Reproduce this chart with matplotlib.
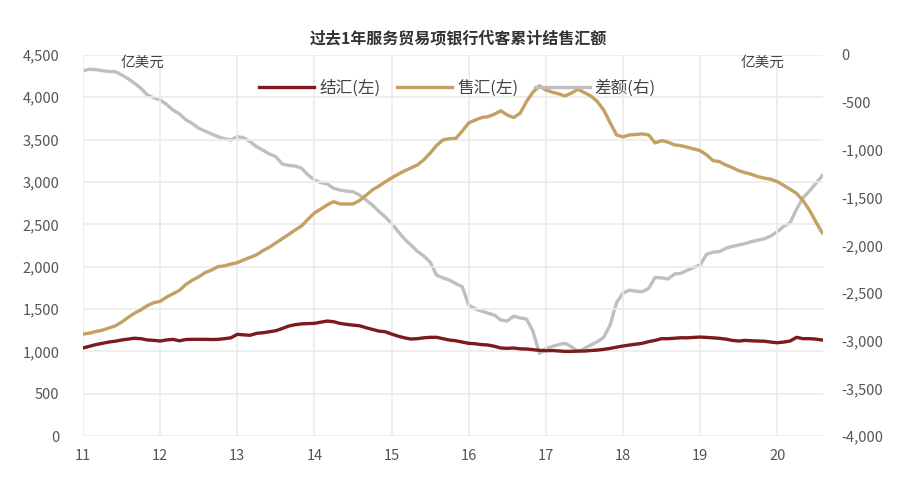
import matplotlib.pyplot as plt
from matplotlib.ticker import FuncFormatter, MultipleLocator
import numpy as np

plt.rcParams['font.family'] = ['Noto Sans CJK SC', 'DejaVu Sans']

# monthly data, Jan 2011 .. Aug 2020 (100 million USD)
start_year = 11
settle = [  # 结汇
    1040, 1060, 1080, 1095, 1110, 1120, 1134, 1145, 1155, 1150, 1135, 1130,
    1122, 1135, 1142, 1125, 1140, 1142, 1142, 1142, 1140, 1142, 1150, 1160,
    1201, 1195, 1190, 1213, 1220, 1232, 1244, 1270, 1299, 1315, 1325, 1328,
    1331, 1345, 1358, 1350, 1330, 1319, 1310, 1303, 1280, 1260, 1240, 1232,
    1205, 1180, 1160, 1146, 1150, 1160, 1166, 1166, 1150, 1134, 1125, 1110,
    1095, 1090, 1080, 1075, 1060, 1040, 1036, 1040, 1030, 1028, 1020, 1012,
    1008, 1010, 1005, 1000, 1000, 1004, 1004, 1010, 1015, 1024, 1035, 1050,
    1063, 1075, 1085, 1095, 1115, 1130, 1150, 1150, 1155, 1161, 1160, 1165,
    1169, 1165, 1160, 1154, 1145, 1130, 1122, 1130, 1125, 1122, 1120, 1110,
    1102, 1110, 1122, 1166, 1150, 1150, 1145, 1134,
]
sale = [  # 售汇
    1205, 1215, 1235, 1250, 1275, 1300, 1345, 1400, 1450, 1490, 1540, 1575,
    1590, 1640, 1680, 1720, 1790, 1840, 1880, 1930, 1960, 2000, 2010, 2030,
    2047, 2080, 2110, 2140, 2190, 2230, 2280, 2330, 2380, 2433, 2480, 2560,
    2633, 2680, 2730, 2767, 2740, 2740, 2740, 2780, 2840, 2905, 2950, 3000,
    3047, 3090, 3130, 3165, 3200, 3260, 3340, 3430, 3496, 3510, 3515, 3600,
    3697, 3730, 3760, 3770, 3800, 3840, 3790, 3760, 3811, 3950, 4060, 4133,
    4086, 4060, 4040, 4015, 4050, 4094, 4055, 4015, 3950, 3850, 3700, 3555,
    3531, 3555, 3560, 3567, 3555, 3460, 3488, 3470, 3437, 3429, 3410, 3390,
    3370, 3320, 3252, 3240, 3200, 3170, 3133, 3110, 3090, 3062, 3045, 3032,
    3004, 2960, 2914, 2866, 2780, 2669, 2530, 2400,
]
diff = [  # 差额
    -168, -150, -155, -165, -175, -175, -210, -250, -297, -350, -420, -450,
    -473, -520, -578, -620, -680, -720, -770, -800, -830, -858, -880, -893,
    -858, -870, -910, -963, -1000, -1040, -1068, -1145, -1160, -1166, -1190, -1260,
    -1313, -1340, -1355, -1400, -1418, -1430, -1435, -1470, -1520, -1575, -1640, -1700,
    -1768, -1850, -1930, -1995, -2060, -2110, -2174, -2310, -2340, -2363, -2400, -2433,
    -2625, -2665, -2688, -2710, -2730, -2783, -2793, -2741, -2760, -2772, -2900, -3132,
    -3080, -3060, -3040, -3027, -3063, -3115, -3080, -3045, -3010, -2964, -2835, -2600,
    -2500, -2468, -2480, -2485, -2450, -2335, -2340, -2352, -2300, -2292, -2260, -2230,
    -2205, -2093, -2070, -2065, -2030, -2010, -1995, -1980, -1960, -1943, -1930, -1900,
    -1855, -1800, -1760, -1620, -1500, -1430, -1350, -1267,
]
x = start_year + np.arange(len(settle)) / 12
years = list(range(11, 21))

c_settle = '#7d1a1c'
c_sale = '#c4a062'
c_diff = '#bfbfbf'
grid_c = '#ebebeb'
text_c = '#555555'

fig = plt.figure(figsize=(9.17, 4.9), dpi=100)
ax = fig.add_axes([0.0905, 0.110, 0.807, 0.778])
ax2 = ax.twinx()

l1, = ax.plot(x, settle, color=c_settle, lw=2.4, label='结汇(左)', zorder=3)
l2, = ax.plot(x, sale, color=c_sale, lw=2.4, label='售汇(左)', zorder=3)
l3, = ax2.plot(x, diff, color=c_diff, lw=2.4, label='差额(右)', zorder=2)

ax.set_xlim(11, x[-1] + 0.01)
ax.set_ylim(0, 4500)
ax2.set_ylim(-4000, 0)
ax.set_xticks(years)
ax.set_xticklabels([str(y) for y in years])
ax.yaxis.set_major_locator(MultipleLocator(500))
ax2.yaxis.set_major_locator(MultipleLocator(500))
fmt = FuncFormatter(lambda v, p: f'{int(v):,}')
ax.yaxis.set_major_formatter(fmt)
ax2.yaxis.set_major_formatter(fmt)

ax.grid(True, color=grid_c, lw=1.2)
ax.set_axisbelow(True)
for a in (ax, ax2):
    for s in a.spines.values():
        s.set_visible(False)
    a.tick_params(length=0, labelsize=10.5, colors=text_c)
ax.tick_params(axis='y', pad=17)
ax.tick_params(axis='x', pad=9)
ax2.tick_params(axis='y', pad=13)
ax.set_zorder(ax2.get_zorder() + 1)
ax.patch.set_visible(False)

fig.text(0.5, 0.922, '过去1年服务贸易项银行代客累计结售汇额', ha='center', va='center',
         fontsize=11.5, fontweight='bold', color='#333333')
fig.text(0.131, 0.872, '亿美元', ha='left', va='center', fontsize=10.5, color='#444444')
fig.text(0.808, 0.872, '亿美元', ha='left', va='center', fontsize=10.5, color='#444444')

fig.legend(handles=[l1, l2, l3], loc='center', bbox_to_anchor=(0.499, 0.82), ncol=3,
           frameon=False, fontsize=12, handlelength=3.3, columnspacing=1.0,
           handletextpad=0.3, labelcolor='#444444')

fig.savefig('out.png', dpi=100)
